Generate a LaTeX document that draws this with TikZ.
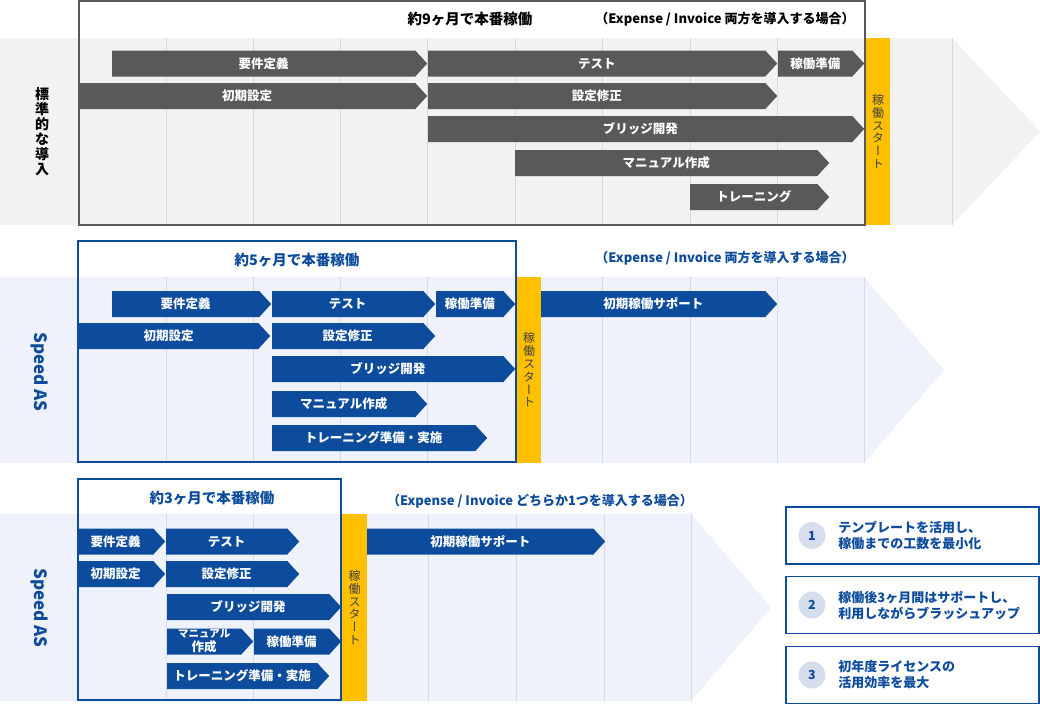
\documentclass[tikz,border=0pt]{standalone}
\usepackage{fontspec}
\setmainfont{Noto Sans CJK JP}
\newfontfamily\vjp[RawFeature=+vert]{Noto Sans CJK JP}
\usepackage{tikz}
\usetikzlibrary{shapes.symbols, positioning}
\definecolor{plangray}{HTML}{595959}
\definecolor{planblue}{HTML}{0D4C9C}
\definecolor{bandgray}{HTML}{F2F2F2}
\definecolor{bandblue}{HTML}{EFF2FA}
\definecolor{gridgray}{HTML}{D9D9D9}
\definecolor{gridblue}{HTML}{D3DCEC}
\definecolor{goliveyellow}{HTML}{FFC000}
\definecolor{startgray}{HTML}{404040}
\definecolor{pointbg}{HTML}{D6DEEE}

\tikzset{
  task/.style={signal, signal to=east, signal pointer angle=95, inner sep=0pt,
    minimum height=26pt, text=white, align=center, anchor=west,
    font=\bfseries\fontsize{12.5}{14}\selectfont},
  graytask/.style={task, fill=plangray},
  bluetask/.style={task, fill=planblue},
  golive/.style={rectangle, fill=goliveyellow, minimum width=24pt, inner sep=0pt,
    align=center, text=startgray, font=\vjp\fontsize{12}{12.8}\selectfont},
  plantitle/.style={font=\bfseries\fontsize{14.5}{16}\selectfont, inner sep=0pt},
  plansub/.style={font=\bfseries\fontsize{13}{15}\selectfont, inner sep=0pt},
  pointbox/.style={draw=planblue, line width=1.5pt, minimum width=253pt, minimum height=57pt},
  pointnum/.style={circle, fill=pointbg, minimum size=27pt, inner sep=0pt, text=planblue,
    font=\bfseries\fontsize{12.5}{14}\selectfont},
  pointtext/.style={inner sep=0pt, align=left, text=planblue,
    font=\bfseries\fontsize{13}{16}\selectfont}
}

\begin{document}
\begin{tikzpicture}[x=1pt,y=-1pt,font=\fontsize{12}{14}\selectfont]
  \useasboundingbox (0,0) rectangle (1040,705);
  \fill[bandgray] (0,38) -- (952,38) -- (1040,131.5) -- (952,225) -- (0,225) -- cycle;
  \fill[bandblue] (0,277) -- (864,277) -- (944,370) -- (864,463) -- (0,463) -- cycle;
  \fill[bandblue] (0,514) -- (691,514) -- (771,607.5) -- (691,701) -- (0,701) -- cycle;
  \foreach \x in {166,253,340,427,515,602,690,777,952}
    \draw[gridgray] (\x,38) -- (\x,225);
  \foreach \x in {166,253,340,427,602,690,777,864}
    \draw[gridblue] (\x,277) -- (\x,463);
  \foreach \x in {166,253,428,516,604,691}
    \draw[gridblue] (\x,514) -- (\x,701);
  \draw[plangray,line width=1.5pt] (79,1) rectangle (865,225);
  \draw[planblue,line width=1.5pt] (78,241) rectangle (516,462);
  \draw[planblue,line width=1.5pt] (78,479) rectangle (341,700);

  \node[golive, minimum height=187pt] (s1start) at (878,131.5) {稼\\働\\ス\\タ\\ー\\ト};
  \node[golive, minimum height=186pt] (s2start) at (529,370) {稼\\働\\ス\\タ\\ー\\ト};
  \node[golive, minimum height=187pt, minimum width=25pt] (s3start) at (354.5,607.5) {稼\\働\\ス\\タ\\ー\\ト};

  \node[plantitle] (s1title) at (470,19) {約9ヶ月で本番稼働};
  \node[plansub] (s1sub) at (725,19) {（Expense / Invoice 両方を導入する場合）};
  \node[plantitle, text=planblue] (s2title) at (297,260) {約5ヶ月で本番稼働};
  \node[plansub, text=planblue] (s2sub) at (725,258) {（Expense / Invoice 両方を導入する場合）};
  \node[plantitle, text=planblue] (s3title) at (212,498) {約3ヶ月で本番稼働};
  \node[plansub, text=planblue] (s3sub) at (540,501) {（Expense / Invoice どちらか1つを導入する場合）};

  \node[align=center, font=\bfseries\fontsize{14}{15}\selectfont] (s1label) at (42,131.5) {標\\準\\的\\な\\導\\入};
  \node[rotate=-90, text=planblue, font=\bfseries\fontsize{17}{18}\selectfont] (s2label) at (40,372) {Speed AS};
  \node[rotate=-90, text=planblue, font=\bfseries\fontsize{17}{18}\selectfont] (s3label) at (40,608) {Speed AS};

  \foreach \n/\xa/\xb/\y/\t in {s1req/112/427/63.5/要件定義, s1test/428/777/63.5/テスト,
      s1prep/778/864/63.5/稼働準備, s1init/79/427/96/初期設定, s1fix/428/777/96/設定修正,
      s1bridge/428/864/129/ブリッジ開発, s1manual/515/829/163/マニュアル作成,
      s1train/690/829/197/トレーニング}
    \node[graytask, minimum width={(\xb-\xa)*1pt}] (\n) at (\xa,\y) {\t};
  \foreach \n/\xa/\xb/\y/\t in {s2req/112/271/304/要件定義, s2test/272/435/304/テスト,
      s2prep/436/515/304/稼働準備, s2support/541/777/304/初期稼働サポート,
      s2init/79/270/336/初期設定, s2fix/272/435/336/設定修正,
      s2bridge/272/515/369/ブリッジ開発, s2manual/272/427/404/マニュアル作成,
      s2train/272/487/438/トレーニング準備・実施}
    \node[bluetask, minimum width={(\xb-\xa)*1pt}] (\n) at (\xa,\y) {\t};
  \foreach \n/\xa/\xb/\y/\t in {s3req/78/165/541.5/要件定義, s3test/166/299/541.5/テスト,
      s3support/367/605/541.5/初期稼働サポート, s3init/78/165/574/初期設定,
      s3fix/166/299/574/設定修正, s3bridge/167/341/607/ブリッジ開発,
      s3manual/167/253/641.5/{\fontsize{10.5}{13}\selectfont マニュアル\\作成},
      s3prep/254/341/641.5/稼働準備, s3train/167/329/676/トレーニング準備・実施}
    \node[bluetask, minimum width={(\xb-\xa)*1pt}] (\n) at (\xa,\y) {\t};

  \foreach \i/\y/\t in {1/535.5/{テンプレートを活用し、\\稼働までの工数を最小化},
      2/605/{稼働後3ヶ月間はサポートし、\\利用しながらブラッシュアップ},
      3/675/{初年度ライセンスの\\活用効率を最大}} {
    \node[pointbox] (point\i) at (912.5,\y) {};
    \node[pointnum] (num\i) at (812,\y) {\i};
    \node[pointtext, right=12.5pt of num\i] (ptext\i) {\t};
  }
\end{tikzpicture}
\end{document}
